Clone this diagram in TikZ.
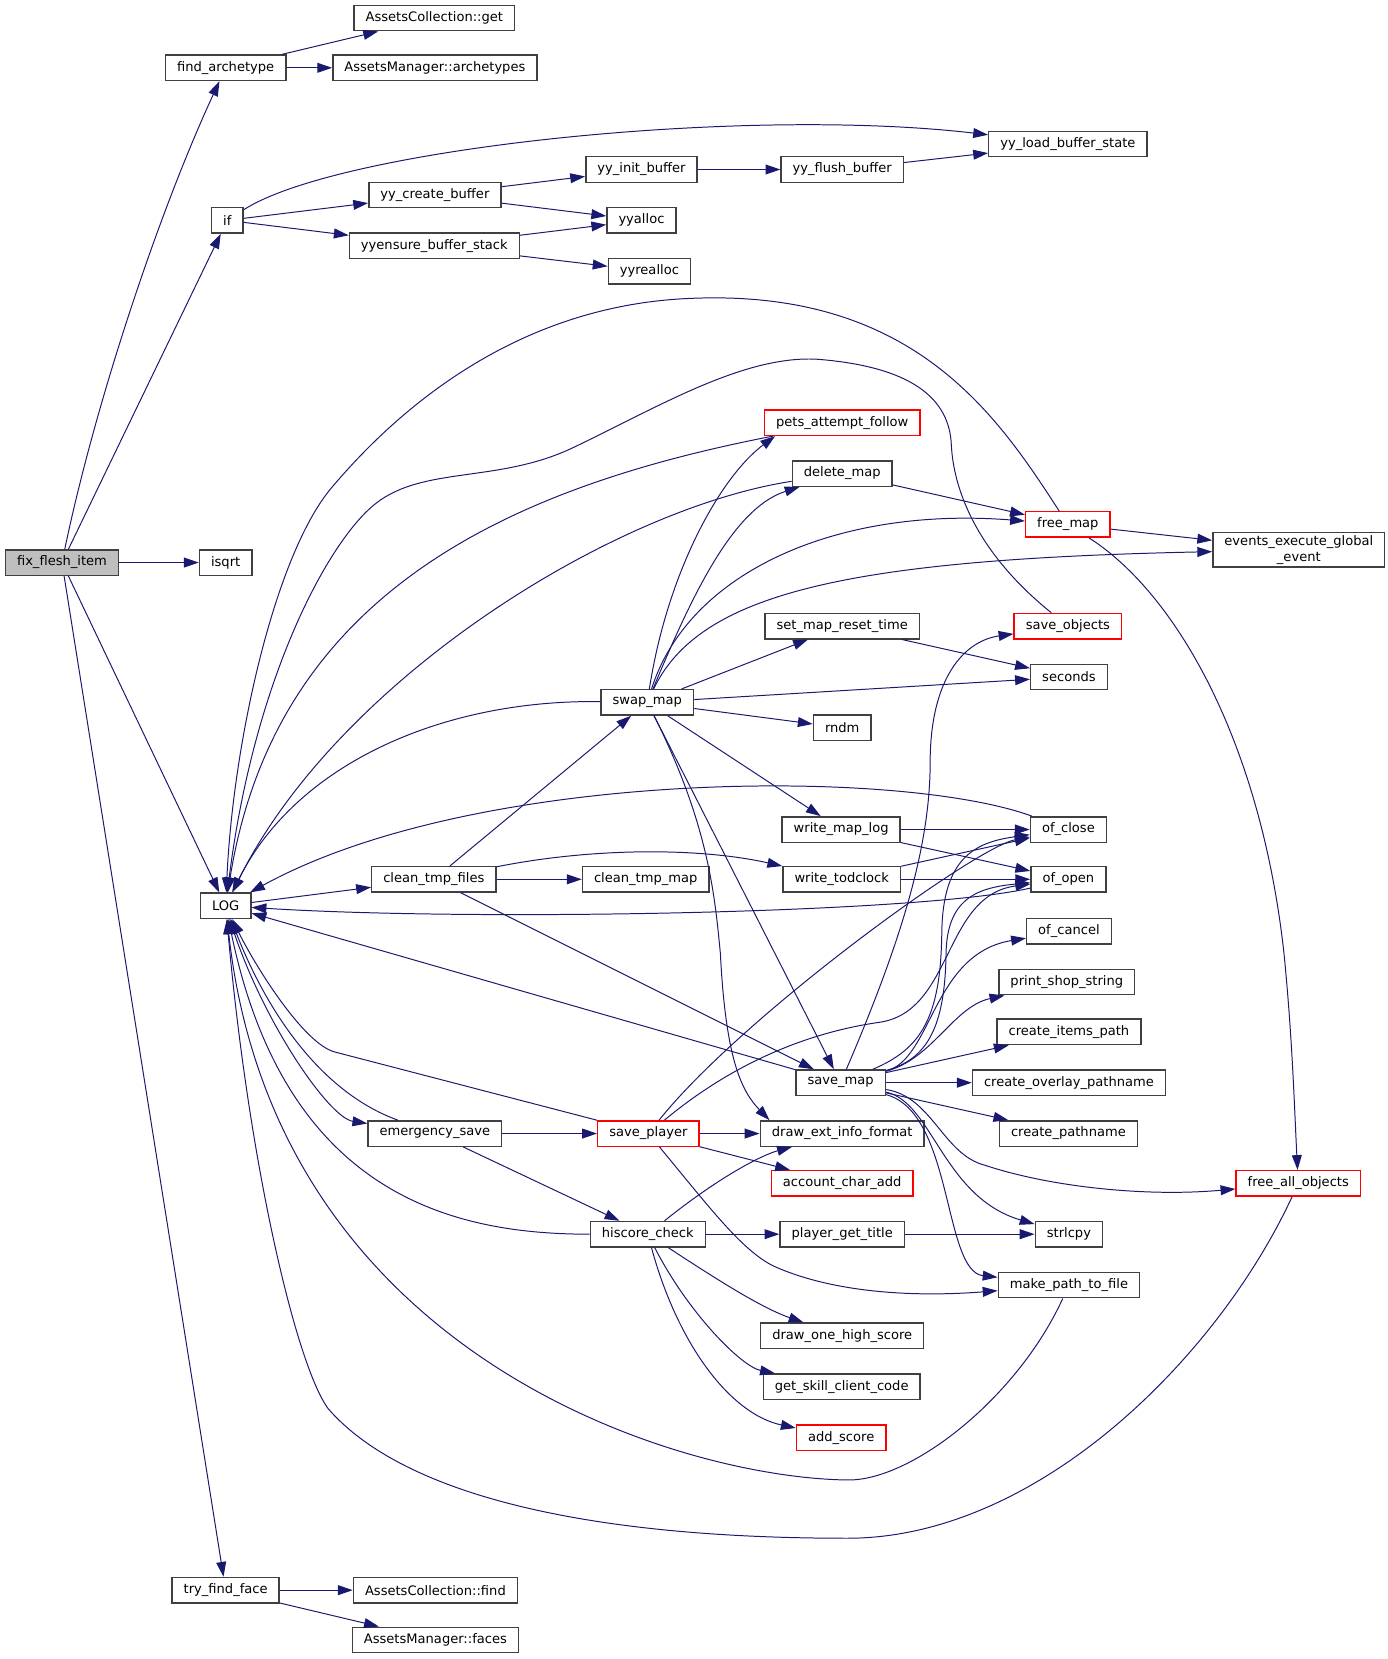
\documentclass[tikz,border=0pt]{standalone}
\usepackage{fontspec}
\setmainfont{DejaVu Sans}
\usetikzlibrary{arrows.meta}
\definecolor{edgeblue}{HTML}{191970}
\definecolor{boxgrey}{HTML}{404040}
\definecolor{rootgrey}{HTML}{BFBFBF}
\begin{document}
\begin{tikzpicture}[x=0.75pt, y=-0.75pt,
       func/.style={rectangle,draw=boxgrey,fill=white,line width=1pt,
      inner xsep=8.2pt,inner ysep=2pt,minimum height=18pt,text=black,
      font=\fontsize{9.25}{11.25}\selectfont},
        rootfunc/.style={func,fill=rootgrey},
        cutfunc/.style={func,draw=red},
        call/.style={edgeblue,line width=0.7pt,-{Triangle[length=10.5pt,width=7pt]}}]

	\useasboundingbox (0,0) rectangle (1310,1566);

	\node [rootfunc] (fix) at (58.5,531) {fix\_flesh\_item};
        \node [func] (findarch) at (213,64) {find\_archetype};
        \node [func] (acget) at (410,17) {AssetsCollection::get};
        \node [func] (amarch) at (410.5,64) {AssetsManager::archetypes};
        \node [func] (ifn) at (214.5,208) {if};
        \node [func] (createbuf) at (410.5,184) {yy\_create\_buffer};
        \node [func] (ensurestack) at (410,232) {yyensure\_buffer\_stack};
        \node [func] (initbuf) at (605.5,160) {yy\_init\_buffer};
        \node [func] (yyalloc) at (605.5,208) {yyalloc};
        \node [func] (yyrealloc) at (613,256) {yyrealloc};
        \node [func] (flushbuf) at (795,160) {yy\_flush\_buffer};
        \node [func] (loadstate) at (1008,136) {yy\_load\_buffer\_state};
        \node [func] (isqrt) at (213,531) {isqrt};
        \node [func] (log) at (213,855) {LOG};
        \node [func] (tryface) at (213,1501) {try\_find\_face};
        \node [func] (acfind) at (411,1501) {AssetsCollection::find};
        \node [func] (amfaces) at (411,1548) {AssetsManager::faces};
        \node [cutfunc] (pets) at (795,399) {pets\_attempt\_follow};
        \node [func] (delmap) at (795,447) {delete\_map};
        \node [cutfunc] (freemap) at (1008,495) {free\_map};
        \node [func,align=center] (events) at (1226,519) {events\_execute\_global\\\_event};
        \node [func] (setreset) at (795,591) {set\_map\_reset\_time};
        \node [cutfunc] (saveobj) at (1008,591) {save\_objects};
        \node [func] (seconds) at (1009,639) {seconds};
        \node [func] (swapmap) at (611,663) {swap\_map};
        \node [func] (rndm) at (795,687) {rndm};
        \node [func] (writelog) at (794,783) {write\_map\_log};
        \node [func] (ofclose) at (1008.5,783) {of\_close};
        \node [func] (cleanfiles) at (409.5,830) {clean\_tmp\_files};
        \node [func] (cleanmap) at (609.5,830) {clean\_tmp\_map};
        \node [func] (writetod) at (794.5,830) {write\_todclock};
        \node [func] (ofopen) at (1008.5,830) {of\_open};
        \node [func] (ofcancel) at (1009,879) {of\_cancel};
        \node [func] (printshop) at (1007,927) {print\_shop\_string};
        \node [func] (itemspath) at (1009,974) {create\_items\_path};
        \node [func] (savemap) at (793.5,1022) {save\_map};
        \node [func] (overlay) at (1009,1022) {create\_overlay\_pathname};
        \node [func] (emergency) at (410.5,1070) {emergency\_save};
        \node [cutfunc] (saveplayer) at (612,1070) {save\_player};
        \node [func] (drawext) at (795,1070) {draw\_ext\_info\_format};
        \node [func] (pathname) at (1008.5,1070) {create\_pathname};
        \node [cutfunc] (accadd) at (795,1117) {account\_char\_add};
        \node [cutfunc] (freeall) at (1225.5,1117) {free\_all\_objects};
        \node [func] (hiscore) at (611.5,1165) {hiscore\_check};
        \node [func] (playertitle) at (795,1165) {player\_get\_title};
        \node [func] (strlcpy) at (1009,1165) {strlcpy};
        \node [func] (mkpath) at (1009,1213) {make\_path\_to\_file};
        \node [func] (drawone) at (795,1261) {draw\_one\_high\_score};
        \node [func] (getskill) at (794.5,1309) {get\_skill\_client\_code};
        \node [cutfunc] (addscore) at (794,1357) {add\_score};

        \draw [call] (fix) .. controls (90,380) and (150,200) .. (findarch);
        \path [call] (fix) edge (ifn);
        \path [call] (fix) edge (isqrt);
        \path [call] (fix) edge (log);
        \path [call] (fix) edge (tryface);
        \path [call] (findarch) edge (acget);
        \path [call] (findarch) edge (amarch);
        \draw [call] (ifn) .. controls (320,140) and (700,100) .. (loadstate);
        \path [call] (ifn) edge (createbuf);
        \path [call] (ifn) edge (ensurestack);
        \path [call] (createbuf) edge (initbuf);
        \path [call] (createbuf) edge (yyalloc);
        \path [call] (ensurestack) edge (yyalloc);
        \path [call] (ensurestack) edge (yyrealloc);
        \path [call] (initbuf) edge (flushbuf);
        \path [call] (flushbuf) edge (loadstate);
        \path [call] (tryface) edge (acfind);
        \path [call] (tryface) edge (amfaces);

        \path [call] (log) edge (cleanfiles);
        \draw [call] (log) .. controls (245,960) and (310,1055) .. (emergency);
        \draw [call] (emergency) .. controls (300,1030) and (250,950) .. (log);
        \draw [call] (saveplayer) -- (316,993) .. controls (286,985) and (240,910) .. (log);
        \draw [call] (hiscore) .. controls (430,1165) and (270,1130) .. (log);
        \draw [call] (mkpath) .. controls (960,1320) and (860,1398) .. (800,1397)
            .. controls (640,1395) and (260,1280) .. (log);
        \draw [call] (freeall) .. controls (1150,1280) and (980,1452) .. (800,1452)
            .. controls (550,1452) and (380,1410) .. (310,1330)
            .. controls (280,1290) and (235,1100) .. (log);
        \path [call] (savemap) edge (log);
        \draw [call] (ofopen) .. controls (870,862) and (450,870) .. (log);
        \draw [call] (ofclose) .. controls (850,725) and (450,725) .. (log);
        \draw [call] (swapmap) .. controls (420,660) and (280,720) .. (log);
        \draw [call] (delmap) .. controls (580,480) and (320,640) .. (log);
        \draw [call] (pets) .. controls (480,460) and (260,560) .. (log);
        \draw [call] (saveobj) .. controls (920,520) and (900,460) .. (898,420)
            .. controls (896,370) and (850,345) .. (770,339)
            .. controls (700,336) and (620,385) .. (540,423)
            .. controls (470,456) and (400,440) .. (355,475)
            .. controls (310,510) and (240,640) .. (log);
        \draw [call] (freemap) .. controls (940,390) and (860,270) .. (645,282)
            .. controls (500,290) and (390,370) .. (315,458)
            .. controls (260,520) and (220,700) .. (log);

        \draw [call] (savemap) .. controls (850,890) and (878,800) .. (878,720)
            .. controls (878,640) and (910,605) .. (saveobj);
        \draw [call] (savemap) .. controls (870,990) and (888,960) .. (889,880)
            .. controls (890,810) and (920,795) .. (ofclose);
        \draw [call] (savemap) .. controls (875,1000) and (892,970) .. (893,900)
            .. controls (894,850) and (920,838) .. (ofopen);
        \draw [call] (savemap) .. controls (880,1000) and (880,900) .. (ofcancel);
        \draw [call] (savemap) .. controls (880,1000) and (900,950) .. (printshop);
        \path [call] (savemap) edge (itemspath);
        \path [call] (savemap) edge (overlay);
        \path [call] (savemap) edge (pathname);
        \draw [call] (savemap) .. controls (880,1040) and (890,1130) .. (strlcpy);
        \draw [call] (savemap) .. controls (900,1050) and (890,1200) .. (mkpath);
        \draw [call] (savemap) .. controls (880,1035) and (890,1090) .. (930,1100)
            .. controls (990,1120) and (1080,1130) .. (freeall);

        \draw [call] (freemap) .. controls (1110,560) and (1190,700) .. (1212,900)
            .. controls (1220,980) and (1222,1050) .. (freeall);
        \path [call] (freemap) edge (events);
        \draw [call] (swapmap) .. controls (660,560) and (800,528) .. (events);
        \draw [call] (swapmap) .. controls (650,540) and (790,478) .. (freemap);
        \draw [call] (swapmap) .. controls (650,570) and (690,480) .. (delmap);
        \draw [call] (swapmap) .. controls (630,540) and (680,450) .. ([xshift=8pt]pets.south west);
        \path [call] (swapmap) edge (setreset);
        \path [call] (swapmap) edge (seconds);
        \path [call] (swapmap) edge (rndm);
        \path [call] (swapmap) edge (writelog);
        \path [call] (swapmap) edge (savemap);
        \draw [call] (swapmap) .. controls (670,780) and (675,850) .. (680,900)
            .. controls (685,1000) and (700,1030) .. ([xshift=7pt]drawext.north west);

        \path [call] (cleanfiles) edge (swapmap);
        \path [call] (cleanfiles) edge (cleanmap);
        \draw [call] (cleanfiles) .. controls (560,800) and (660,800) .. (writetod);
        \path [call] (cleanfiles) edge (savemap);
        \path [call] (writelog) edge (ofclose);
        \path [call] (writelog) edge (ofopen);
        \path [call] (writetod) edge (ofclose);
        \path [call] (writetod) edge (ofopen);
        \path [call] (setreset) edge (seconds);
        \path [call] (delmap) edge (freemap);

        \path [call] (emergency) edge (saveplayer);
        \path [call] (emergency) edge (hiscore);
        \path [call] (saveplayer) edge (drawext);
        \path [call] (saveplayer) edge (accadd);
        \draw [call] (saveplayer) .. controls (700,960) and (920,800) .. (ofclose);
        \draw [call] (saveplayer) .. controls (690,1005) and (760,975) .. (830,965)
            .. controls (900,955) and (890,845) .. (ofopen);
        \draw [call] (saveplayer) .. controls (670,1140) and (700,1180) .. (730,1195)
            .. controls (790,1222) and (870,1224) .. (mkpath);
        \path [call] (hiscore) edge (playertitle);
        \draw [call] (hiscore) .. controls (680,1110) and (720,1090) .. (drawext);
        \draw [call] (hiscore) .. controls (680,1210) and (720,1235) .. (drawone);
        \draw [call] (hiscore) .. controls (650,1240) and (700,1290) .. (getskill);
        \draw [call] (hiscore) .. controls (640,1270) and (690,1335) .. (addscore);
        \path [call] (playertitle) edge (strlcpy);
\end{tikzpicture}
\end{document}
